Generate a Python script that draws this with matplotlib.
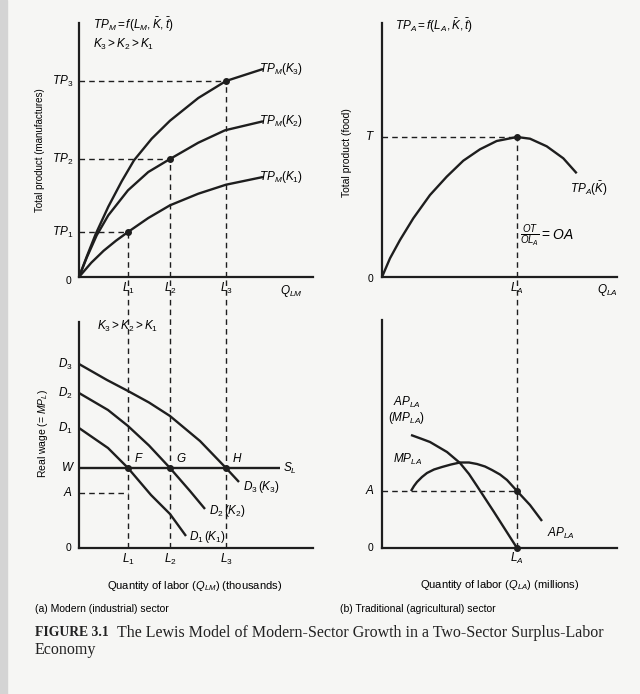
import matplotlib
matplotlib.use('Agg')
import matplotlib.pyplot as plt
from matplotlib.patches import Rectangle

plt.rcParams['font.family'] = ['Liberation Sans', 'DejaVu Sans']
plt.rcParams['mathtext.fontset'] = 'custom'
plt.rcParams['mathtext.it'] = 'Liberation Sans:italic'
plt.rcParams['mathtext.rm'] = 'Liberation Sans'
plt.rcParams['mathtext.bf'] = 'Liberation Sans:bold'

# ---------------- data: panel (a) top, total product of manufactures ----------------
L_M = [49, 91, 147]
L_M_labels = ['$L_1$', '$L_2$', '$L_3$']
TP_levels = [45, 118, 196]
TP_labels = ['$TP_1$', '$TP_2$', '$TP_3$']
tp_k3_x = [0, 7.7, 16.7, 29.3, 42.7, 55, 72.7, 91, 119.3, 147, 184]
tp_k3_y = [0, 20.3, 43, 70.3, 95.7, 116.7, 138.3, 156.3, 179, 196, 208]
tp_k2_x = [0, 7.7, 17.7, 29.3, 49, 69.3, 91, 119.3, 146, 184]
tp_k2_y = [0, 19.3, 41.7, 61.7, 86.7, 105, 118, 134.3, 146.7, 155.7]
tp_k1_x = [0, 12.3, 24.7, 37, 49, 69.3, 91, 119.3, 147, 184]
tp_k1_y = [0, 14.3, 26.3, 36.3, 45, 59, 71.7, 83.3, 92.3, 100]
tp_curve_labels = ['$TP_M(K_3)$', '$TP_M(K_2)$', '$TP_M(K_1)$']

# ---------------- data: panel (b) top, total product of food ----------------
L_A = 135
T_level = 140
tpa_x = [0, 8, 18, 31.3, 48, 64.7, 81.3, 98, 114.7, 135, 148, 164.7, 181.3, 194.7]
tpa_y = [0, 18.7, 37, 58.7, 82, 100.3, 116.3, 127.7, 136, 140, 138.3, 130.7, 118.7, 103.7]

# ---------------- data: panel (a) bottom, labor demand ----------------
W_level = 80
A_level_a = 55
d3_x = [0, 28, 49, 70, 91, 121, 147, 160]
d3_y = [184, 168, 157, 145.5, 132, 107, 80, 66]
d2_x = [0, 29, 49, 70, 91, 111, 126]
d2_y = [155, 138, 122, 102.5, 80, 57, 39]
d1_x = [0, 29, 49, 72, 91, 107]
d1_y = [120, 100, 80, 53, 34, 12]
D_start_labels = ['$D_1$', '$D_2$', '$D_3$']
D_curve_labels = ['$D_1\\,(K_1)$', '$D_2\\,(K_2)$', '$D_3\\,(K_3)$']
point_labels = ['$F$', '$G$', '$H$']
supply_end = 201

# ---------------- data: panel (b) bottom, AP and MP of agricultural labor ----------------
A_level_b = 57
mp_x = [29, 40, 48, 65, 78, 87, 95, 112, 135]
mp_y = [113, 109, 106, 96, 85, 74, 62, 36, 0]
ap_x = [29, 32, 35, 40, 45, 52, 60, 69, 78, 87, 95, 103, 110, 118, 125, 135, 148, 160]
ap_y = [57, 62, 66, 71, 75, 78.5, 81, 83.5, 85.5, 85.5, 84, 81.5, 78, 73.5, 68, 57, 43, 27]

# ---------------- figure ----------------
W_PX, H_PX = 640, 694
BG = '#f6f6f4'
INK = '#1e1e1e'
fig = plt.figure(figsize=(W_PX / 100, H_PX / 100), dpi=100, facecolor=BG)
fig.patches.append(Rectangle((0, 0), 7 / W_PX, 1, transform=fig.transFigure,
                             color='#d4d4d4', zorder=0))


def px_axes(x0, y0, x1, y1, xmax, ymax):
    ax = fig.add_axes([x0 / W_PX, 1 - y1 / H_PX, (x1 - x0) / W_PX, (y1 - y0) / H_PX])
    ax.set_xlim(0, xmax)
    ax.set_ylim(0, ymax)
    ax.set_facecolor('none')
    for s in ('top', 'right'):
        ax.spines[s].set_visible(False)
    for s in ('left', 'bottom'):
        ax.spines[s].set_linewidth(1.6)
        ax.spines[s].set_color(INK)
    ax.set_xticks([])
    ax.set_yticks([])
    return ax


DASH = dict(color=INK, lw=1.0, linestyle=(0, (4, 3)), clip_on=False)
CURVE = dict(color=INK, lw=1.7, solid_capstyle='butt', solid_joinstyle='round', clip_on=False)
DOT = dict(marker='o', ms=4, color=INK, linestyle='none', clip_on=False, zorder=5)
FS = 7.5
FSF = 8.5

# ---- top-left ----
ax1 = px_axes(79, 23, 313, 277, 234, 254)
for L, tp in zip(L_M, TP_levels):
    ax1.plot([0, L], [tp, tp], **DASH)
    ax1.plot([L, L], [0, tp], **DASH)
    ax1.plot([L], [tp], **DOT)
ax1.plot(tp_k3_x, tp_k3_y, **CURVE)
ax1.plot(tp_k2_x, tp_k2_y, **CURVE)
ax1.plot(tp_k1_x, tp_k1_y, **CURVE)
for lab, yy in zip(tp_curve_labels, [tp_k3_y[-1], tp_k2_y[-1], tp_k1_y[-1]]):
    ax1.text(180, yy, lab, fontsize=FSF, ha='left', va='center')
for lab, tp in zip(TP_labels, TP_levels):
    ax1.text(-6, tp, lab, fontsize=FSF, ha='right', va='center')
for lab, L in zip(L_M_labels, L_M):
    ax1.text(L, -11, lab, fontsize=FSF, ha='center', va='center')
ax1.text(-10, -4, '0', fontsize=FS, ha='center', va='center')
ax1.text(212, -14, '$Q_{LM}$', fontsize=FSF, ha='center', va='center')
ax1.text(14, 252, '$TP_M = f(L_M, \\bar{K}, \\bar{t})$', fontsize=FSF, ha='left', va='center')
ax1.text(14, 233, '$K_3 > K_2 > K_1$', fontsize=FSF, ha='left', va='center')
ax1.text(-39, 127, 'Total product (manufactures)', fontsize=7, rotation=90,
         ha='center', va='center')

# ---- top-right ----
ax2 = px_axes(382, 23, 617, 277, 235, 254)
ax2.plot([0, L_A], [T_level, T_level], **DASH)
ax2.plot([L_A, L_A], [0, T_level], **DASH)
ax2.plot(tpa_x, tpa_y, **CURVE)
ax2.plot([L_A], [T_level], **DOT)
ax2.text(-12, T_level, '$T$', fontsize=FSF, ha='center', va='center')
ax2.text(-12, -2, '0', fontsize=FS, ha='center', va='center')
ax2.text(L_A, -11, '$L_A$', fontsize=FSF, ha='center', va='center')
ax2.text(225, -13, '$Q_{LA}$', fontsize=FSF, ha='center', va='center')
ax2.text(188, 88, '$TP_A(\\bar{K})$', fontsize=FSF, ha='left', va='center')
ax2.text(138, 41, '$\\frac{OT}{OL_A} = OA$', fontsize=10, ha='left', va='center')
ax2.text(13, 251, '$TP_A = f(L_A, \\bar{K}, \\bar{t})$', fontsize=FSF, ha='left', va='center')
ax2.text(-35, 124, 'Total product (food)', fontsize=7.5, rotation=90,
         ha='center', va='center')

# ---- bottom-left ----
ax3 = px_axes(79, 322, 313, 548, 234, 226)
for L in L_M:
    ax3.plot([L, L], [0, 271], **DASH)
ax3.plot([0, L_M[0]], [A_level_a, A_level_a], **DASH)
ax3.plot([0, supply_end], [W_level, W_level], **CURVE)
ax3.plot(d3_x, d3_y, **CURVE)
ax3.plot(d2_x, d2_y, **CURVE)
ax3.plot(d1_x, d1_y, **CURVE)
ax3.plot(L_M, [W_level] * 3, **DOT)
for lab, yy in zip(D_start_labels, [d1_y[0], d2_y[0], d3_y[0]]):
    ax3.text(-6, yy, lab, fontsize=FSF, ha='right', va='center')
for lab, L in zip(point_labels, L_M):
    ax3.text(L + 11, W_level + 9, lab, fontsize=FSF, ha='center', va='center')
ax3.text(d3_x[-1] + 4, d3_y[-1] - 5, D_curve_labels[2], fontsize=FSF, ha='left', va='center')
ax3.text(d2_x[-1] + 4, d2_y[-1] - 2, D_curve_labels[1], fontsize=FSF, ha='left', va='center')
ax3.text(d1_x[-1] + 3, d1_y[-1] - 1, D_curve_labels[0], fontsize=FSF, ha='left', va='center')
ax3.text(supply_end + 3, W_level, '$S_L$', fontsize=FSF, ha='left', va='center')
ax3.text(-11, W_level, '$W$', fontsize=FSF, ha='center', va='center')
ax3.text(-11, A_level_a, '$A$', fontsize=FSF, ha='center', va='center')
ax3.text(-10, 0, '0', fontsize=FS, ha='center', va='center')
for lab, L in zip(L_M_labels, L_M):
    ax3.text(L, -11, lab, fontsize=FSF, ha='center', va='center')
ax3.text(18, 222, '$K_3 > K_2 > K_1$', fontsize=FSF, ha='left', va='center')
ax3.text(-36, 115, 'Real wage (= $MP_L$)', fontsize=7.5, rotation=90, ha='center', va='center')
ax3.text(116, -38, 'Quantity of labor ($Q_{LM}$) (thousands)', fontsize=8,
         ha='center', va='center')
ax3.text(-44, -61, '(a) Modern (industrial) sector', fontsize=7.5, ha='left', va='center')

# ---- bottom-right ----
ax4 = px_axes(382, 320, 617, 548, 235, 228)
ax4.plot([L_A, L_A], [0, 271], **DASH)
ax4.plot([0, L_A], [A_level_b, A_level_b], **DASH)
ax4.plot(mp_x, mp_y, **CURVE)
ax4.plot(ap_x, ap_y, **CURVE)
ax4.plot([L_A, L_A], [A_level_b, 0], **DOT)
ax4.text(25, 146, '$AP_{LA}$', fontsize=FSF, ha='center', va='center')
ax4.text(25, 130, '$(MP_{LA})$', fontsize=FSF, ha='center', va='center')
ax4.text(11, 89, '$MP_{LA}$', fontsize=FSF, ha='left', va='center')
ax4.text(165, 15, '$AP_{LA}$', fontsize=FSF, ha='left', va='center')
ax4.text(-12, A_level_b, '$A$', fontsize=FSF, ha='center', va='center')
ax4.text(-12, 0, '0', fontsize=FS, ha='center', va='center')
ax4.text(L_A, -10, '$L_A$', fontsize=FSF, ha='center', va='center')
ax4.text(118, -37, 'Quantity of labor ($Q_{LA}$) (millions)', fontsize=8,
         ha='center', va='center')
ax4.text(-42, -61, '(b) Traditional (agricultural) sector', fontsize=7.5, ha='left', va='center')

# ---- caption ----
SERIF = ['Liberation Serif', 'DejaVu Serif']
t1 = fig.text(35 / W_PX, 1 - 633 / H_PX, 'FIGURE 3.1', fontsize=9.8, fontweight='bold',
              family=SERIF, ha='left', va='center', color='#222222')
fig.canvas.draw()
bb = t1.get_window_extent()
fig.text((bb.x1 + 8) / W_PX, 1 - 633 / H_PX,
         'The Lewis Model of Modern-Sector Growth in a Two-Sector Surplus-Labor',
         fontsize=11.5, family=SERIF, ha='left', va='center', color='#222222')
fig.text(35 / W_PX, 1 - 650 / H_PX, 'Economy', fontsize=11.5,
         family=SERIF, ha='left', va='center', color='#222222')

fig.savefig('out.png', dpi=100, facecolor=BG)
